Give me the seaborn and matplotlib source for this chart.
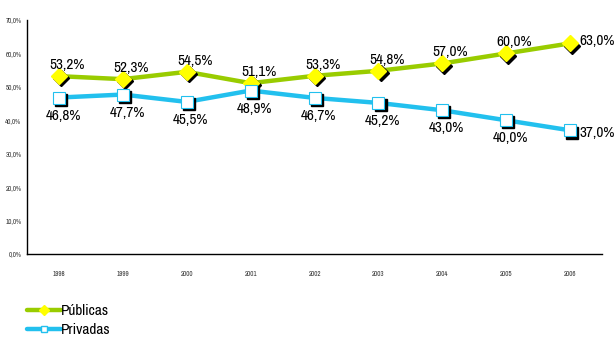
import matplotlib
matplotlib.use("Agg")
import matplotlib.pyplot as plt
import matplotlib.transforms as mtrans
from matplotlib.lines import Line2D
import seaborn as sns
import pandas as pd

years = ["1998", "1999", "2000", "2001", "2002", "2003", "2004", "2005", "2006"]
publicas = [53.2, 52.3, 54.5, 51.1, 53.3, 54.8, 57.0, 60.0, 63.0]
privadas = [46.8, 47.7, 45.5, 48.9, 46.7, 45.2, 43.0, 40.0, 37.0]
yticks = [0, 10, 20, 30, 40, 50, 60, 70]

sns.set_style("white")
plt.rcParams['font.family'] = ['Archivo Narrow', 'PT Sans Narrow', 'Liberation Sans', 'DejaVu Sans']

GREEN = "#99CC00"
YELLOW = "#FFFF00"
BLUE = "#22C0EE"
TXT = "#000000"

fig = plt.figure(figsize=(6.16, 3.46), dpi=100)
ax = fig.add_axes([27/616, 1-254/346, (602-27)/616, (254-20)/346])

pos = list(range(len(years)))
df = pd.DataFrame({"pos": pos + pos,
                   "val": publicas + privadas,
                   "serie": ["Públicas"]*len(years) + ["Privadas"]*len(years)})

sns.lineplot(data=df, x="pos", y="val", hue="serie",
             palette={"Públicas": GREEN, "Privadas": BLUE},
             linewidth=3.2, legend=False, ax=ax, zorder=2)

shadow = mtrans.offset_copy(ax.transData, fig=fig, x=2.2, y=-2.2, units='dots')
ax.plot(pos, publicas, linestyle='none', marker='D', markersize=8.5,
        color='black', transform=shadow, zorder=3)
ax.plot(pos, privadas, linestyle='none', marker='s', markersize=8,
        color='black', transform=shadow, zorder=3)
ax.plot(pos, publicas, linestyle='none', marker='D', markersize=8.5,
        markerfacecolor=YELLOW, markeredgecolor=YELLOW, zorder=4)
ax.plot(pos, privadas, linestyle='none', marker='s', markersize=8,
        markerfacecolor='white', markeredgecolor=BLUE, markeredgewidth=0.8, zorder=4)

def fmt(v):
    return f"{v:.1f}%".replace(".", ",")

LBL = 11
for i, v in enumerate(publicas):
    if i == len(years) - 1:
        ax.annotate(fmt(v), (i, v), xytext=(7, 1.5), textcoords='offset points',
                    ha='left', va='center', fontsize=LBL, color=TXT, zorder=5)
    else:
        ax.annotate(fmt(v), (i, v), xytext=(6, 3.0), textcoords='offset points',
                    ha='center', va='bottom', fontsize=LBL, color=TXT, zorder=5)
for i, v in enumerate(privadas):
    if i == len(years) - 1:
        ax.annotate(fmt(v), (i, v), xytext=(7, -2), textcoords='offset points',
                    ha='left', va='center', fontsize=LBL, color=TXT, zorder=5)
    else:
        ax.annotate(fmt(v), (i, v), xytext=(3, -8), textcoords='offset points',
                    ha='center', va='top', fontsize=LBL, color=TXT, zorder=5)

ax.set_xlim(-0.5, len(years) - 0.5)
ax.set_ylim(0, 70)
ax.set_yticks(yticks)
ax.set_yticklabels([f"{t:.1f}%".replace(".", ",") for t in yticks], fontsize=5, color='#333333')
ax.set_xticks(pos)
ax.set_xticklabels(years, fontsize=5, color='#333333')
ax.set_xticks([p + 0.5 for p in pos], minor=True)
ax.tick_params(axis='x', which='major', length=0, pad=12)
ax.tick_params(axis='x', which='minor', length=4, direction='inout', width=0.8)
ax.tick_params(axis='y', which='major', length=3, direction='out', width=0.8, pad=1)
ax.set_xlabel("")
ax.set_ylabel("")
for s in ["top", "right"]:
    ax.spines[s].set_visible(False)
for s in ["left", "bottom"]:
    ax.spines[s].set_color('black')
    ax.spines[s].set_linewidth(1.0)
ax.grid(False)

handles = [
    Line2D([], [], color=GREEN, linewidth=3.2, marker='D', markersize=5,
           markerfacecolor=YELLOW, markeredgecolor=YELLOW),
    Line2D([], [], color=BLUE, linewidth=3.2, marker='s', markersize=5,
           markerfacecolor='white', markeredgecolor=BLUE),
]
leg = fig.legend(handles, ["Públicas", "Privadas"], loc='upper left',
                 bbox_to_anchor=(27/616, 1-304/346), frameon=False, fontsize=11,
                 handlelength=2.2, handletextpad=0.05, labelspacing=0.35,
                 borderaxespad=0, borderpad=0)
for t in leg.get_texts():
    t.set_color(TXT)

fig.savefig("out.png", dpi=100)
